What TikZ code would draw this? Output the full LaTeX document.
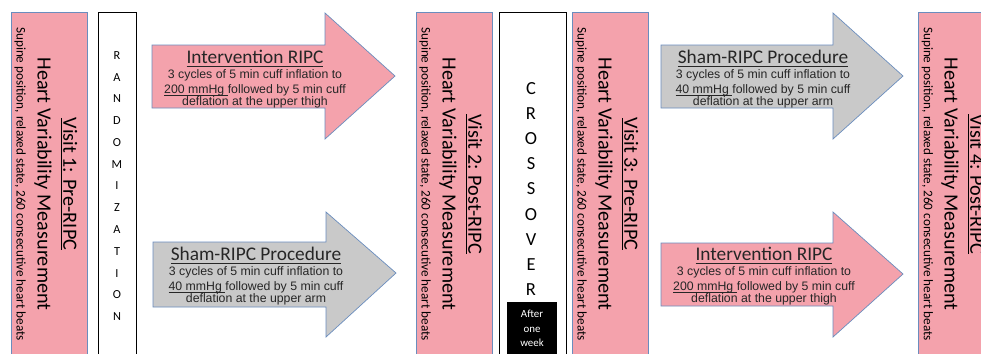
\documentclass[tikz,border=0pt]{standalone}
\usepackage{fontspec}
\setmainfont{Carlito}
\newfontfamily\arialfont{Liberation Sans}
\newcommand\armfont{\arialfont\fontsize{7}{8.5}\selectfont\lineskiplimit=-10pt\relax}
\newcommand\pressure[1]{\underline{\smash{#1}}}
\usetikzlibrary{shapes}

\begin{document}
\begin{tikzpicture}[x=0.02cm,y=-0.02cm,
		visitbox/.style={draw=borderblue,fill=visitpink,minimum width=1.52cm,minimum height=6.96cm,inner sep=0pt},
		visittext/.style={rotate=-90,inner sep=0pt,align=center,font=\fontsize{11.5}{14.7}\selectfont},
		barbox/.style={draw=black,fill=white,minimum height=6.96cm,inner sep=0pt},
		pinkarrow/.style={draw=borderblue,fill=visitpink},
		greyarrow/.style={draw=borderblue,fill=shamgrey},
		armtext/.style={align=center,inner sep=0pt,text=black!85,font=\armfont}]
	\definecolor{visitpink}{HTML}{F4A2AC}
	\definecolor{shamgrey}{HTML}{C9C9C9}
	\definecolor{borderblue}{HTML}{6A8DBE}
	\clip (0,0) rectangle (981,353);
	\fill[white] (0,0) rectangle (981,353);
	% visits
	\node[visitbox] (visit1) at (49,186) {};
	\node[visitbox] (visit2) at (454,186) {};
	\node[visitbox] (visit3) at (610,186) {};
	\node[visitbox] (visit4) at (956,186) {};
	\node[visittext] (visit1text) at (46,184) {\underline{Visit 1: Pre-RIPC}\\Heart Variability Measurement\\[-2.8pt]\fontsize{7.5}{9}\selectfont Supine position, relaxed state, 260 consecutive heart beats};
	\node[visittext] (visit2text) at (451,184) {\underline{Visit 2: Post-RIPC}\\Heart Variability Measurement\\[-2.8pt]\fontsize{7.5}{9}\selectfont Supine position, relaxed state, 260 consecutive heart beats};
	\node[visittext] (visit3text) at (607,184) {\underline{Visit 3: Pre-RIPC}\\Heart Variability Measurement\\[-2.8pt]\fontsize{7.5}{9}\selectfont Supine position, relaxed state, 260 consecutive heart beats};
	\node[visittext] (visit4text) at (953,184) {\underline{Visit 4: Post-RIPC}\\Heart Variability Measurement\\[-2.8pt]\fontsize{7.5}{9}\selectfont Supine position, relaxed state, 260 consecutive heart beats};
	% randomization and crossover
	\node[barbox,minimum width=0.76cm] (random) at (117,186) {};
	\node[align=center,inner sep=0pt,font=\fontsize{7}{12.4}\selectfont] (randtext) at (117,186) {R\\A\\N\\D\\O\\M\\I\\Z\\A\\T\\I\\O\\N};
	\node[barbox,minimum width=1.34cm] (cross) at (532.5,186) {};
	\node[align=center,inner sep=0pt,font=\fontsize{10.5}{14.3}\selectfont] (crosstext) at (531,189) {C\\R\\O\\S\\S\\O\\V\\E\\R};
	\node[fill=black,text=white,minimum width=1cm,minimum height=1.06cm,inner sep=0pt,align=center,font=\fontsize{6.2}{8.2}\selectfont] (week) at (532,328.5) {After\\one\\week};
	% arms
	\draw[pinkarrow] (152,45) -- (325,45) -- (325,13) -- (395,76) -- (325,139) -- (325,108) -- (152,108) -- cycle;
	\draw[greyarrow] (153,242) -- (326,242) -- (326,212) -- (396,273) -- (326,337) -- (326,307) -- (153,307) -- cycle;
	\draw[greyarrow] (661,45) -- (833,45) -- (833,13) -- (903,76) -- (833,139) -- (833,108) -- (661,108) -- cycle;
	\draw[pinkarrow] (661,243) -- (833,243) -- (833,212) -- (903,274) -- (833,337) -- (833,306) -- (661,306) -- cycle;
	\node[armtext] (ripc1) at (255,79) {{\rmfamily\fontsize{11}{8.5}\selectfont\underline{Intervention RIPC}}\\3 cycles of 5 min cuff inflation to\\\pressure{200 mmHg\ }followed by 5 min cuff\\[-1.5pt]deflation at the upper thigh};
	\node[armtext] (sham1) at (256,276) {{\rmfamily\fontsize{11}{8.5}\selectfont\underline{Sham-RIPC Procedure}}\\3 cycles of 5 min cuff inflation to\\\pressure{40 mmHg\ }followed by 5 min cuff\\[-1.5pt]deflation at the upper arm};
	\node[armtext] (sham2) at (763,79) {{\rmfamily\fontsize{11}{8.5}\selectfont\underline{Sham-RIPC Procedure}}\\3 cycles of 5 min cuff inflation to\\\pressure{40 mmHg\ }followed by 5 min cuff\\[-1.5pt]deflation at the upper arm};
	\node[armtext] (ripc2) at (764,276) {{\rmfamily\fontsize{11}{8.5}\selectfont\underline{Intervention RIPC}}\\3 cycles of 5 min cuff inflation to\\\pressure{200 mmHg\ }followed by 5 min cuff\\[-1.5pt]deflation at the upper thigh};
\end{tikzpicture}
\end{document}
